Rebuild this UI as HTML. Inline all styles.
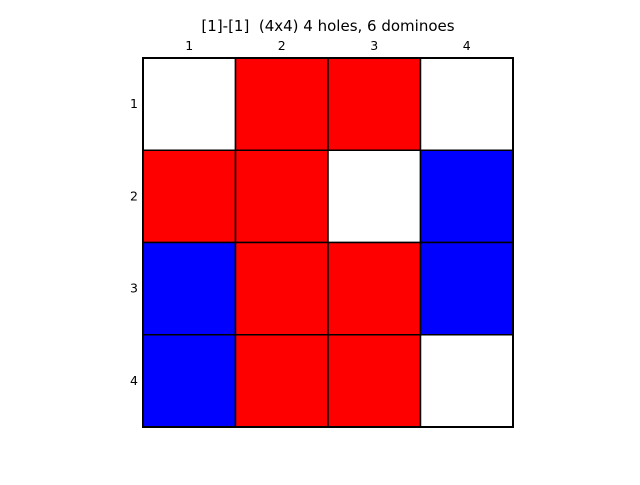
<!DOCTYPE html>
<html><head><meta charset="utf-8"><style>
body{margin:0;background:#fff;width:640px;height:480px;overflow:hidden}
svg text{font-family:"DejaVu Sans","Liberation Sans",sans-serif}
</style></head><body>
<svg id="chart" width="640" height="480" xmlns="http://www.w3.org/2000/svg">
<text x="328" y="31" font-size="15" text-anchor="middle" style="white-space:pre" xml:space="preserve">[1]-[1]  (4x4) 4 holes, 6 dominoes</text>
<g id="cells"></g><g id="ticks"></g>
</svg>
<script>
const rowLabels=["1","2","3","4"];
const colLabels=["1","2","3","4"];
const cellValues=[
 ["W","R","R","W"],
 ["R","R","W","B"],
 ["B","R","R","B"],
 ["B","R","R","W"]];
const colorMap={W:"#ffffff",R:"#ff0000",B:"#0000ff"};
const x0=143,y0=58,w=370,h=369;
const cw=w/colLabels.length,ch=h/rowLabels.length;
const xPos=i=>x0+i*cw, yPos=j=>y0+j*ch;
const ns="http://www.w3.org/2000/svg";
const cells=document.getElementById('cells'),ticks=document.getElementById('ticks');
cellValues.forEach((row,r)=>row.forEach((v,c)=>{
 const el=document.createElementNS(ns,'rect');
 el.setAttribute('x',xPos(c));el.setAttribute('y',yPos(r));
 el.setAttribute('width',cw);el.setAttribute('height',ch);
 el.setAttribute('fill',colorMap[v]);el.setAttribute('stroke','#000');el.setAttribute('stroke-width','1.5');
 
 
 cells.appendChild(el);
}));
const border=document.createElementNS(ns,'rect');
border.setAttribute('x',x0);border.setAttribute('y',y0);border.setAttribute('width',w);border.setAttribute('height',h);
border.setAttribute('fill','none');border.setAttribute('stroke','#000');border.setAttribute('stroke-width','2');


cells.appendChild(border);
colLabels.forEach((l,i)=>{
 const t=document.createElementNS(ns,'text');
 t.setAttribute('x',xPos(i)+cw/2);t.setAttribute('y',50);t.setAttribute('font-size','12.5');t.setAttribute('text-anchor','middle');
 t.textContent=l;
 
 
 ticks.appendChild(t);
});
rowLabels.forEach((l,j)=>{
 const t=document.createElementNS(ns,'text');
 t.setAttribute('x',138);t.setAttribute('y',yPos(j)+ch/2+4);t.setAttribute('font-size','12.5');t.setAttribute('text-anchor','end');
 t.textContent=l;
 
 
 ticks.appendChild(t);
});
</script>
</body></html>
